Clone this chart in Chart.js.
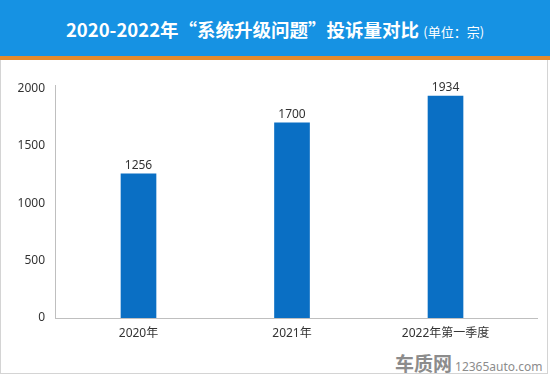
<!DOCTYPE html>
<html>
<head>
<meta charset="utf-8">
<script src="https://cdn.jsdelivr.net/npm/chart.js@4"></script>
<style>
  html, body { margin: 0; padding: 0; width: 550px; height: 376px; overflow: hidden; background: #fff; }
  body { position: relative; font-family: "Noto Sans", "Noto Sans CJK SC", sans-serif; }
  #head { position: absolute; left: 0; top: 0; width: 550px; height: 56px; background: #1692e3; }
  #stripe { position: absolute; left: 0; top: 56px; width: 550px; height: 4px; background: #e48a2c; }
  #title { position: absolute; left: 0; top: 0; width: 550px; height: 58px; line-height: 58px; text-align: center; color: #fff;
    font-family: "Noto Sans CJK SC", sans-serif; font-weight: bold; font-size: 18.5px; white-space: nowrap; }
  #title small { font-size: 13px; font-weight: normal; }
  #panel { position: absolute; left: 0; top: 60px; width: 546px; height: 313px; border: 1px solid #d4d4d4; border-top: none; }
  #logo { position: absolute; left: 395px; top: 349px; color: #8c8c8c; white-space: nowrap; }
  #logo b { font-family: "Noto Sans CJK SC", sans-serif; font-size: 19px; }
  #logo span { font-size: 12px; margin-left: 3px; }
  #wrap { position: absolute; left: 0; top: 0; width: 550px; height: 376px; }
</style>
</head>
<body>
<div id="head"></div>
<div id="stripe"></div>
<div id="title">2020-2022年“系统升级问题”投诉量对比 <small>(单位：宗)</small></div>
<div id="panel"></div>
<div id="logo"><b>车质网</b><span>12365auto.com</span></div>
<div id="wrap"><canvas id="chart" width="550" height="376"></canvas></div>
<script>
const categories = ["2020年", "2021年", "2022年第一季度"];
const complaints = [1256, 1700, 1934];
const yTicks = [0, 500, 1000, 1500, 2000];

const barLabels = {
    id: "barLabels",
    afterDatasetsDraw(chart) {
        const ctx = chart.ctx;
        const meta = chart.getDatasetMeta(0);
        ctx.save();
        ctx.fillStyle = "#333";
        ctx.font = "12px 'Noto Sans', sans-serif";
        ctx.textAlign = "center";
        ctx.textBaseline = "bottom";
        meta.data.forEach((bar, i) => {
            ctx.fillText(String(complaints[i]), bar.x, bar.y - 2);
        });
        ctx.restore();
    },
};

new Chart(document.getElementById("chart").getContext("2d"), {
    type: "bar",
    data: {
        datasets: [{
            data: complaints.map((v, i) => ({ x: i, y: v })),
            backgroundColor: "#0a6fc4",
            barThickness: 35,
        }],
    },
    options: {
        responsive: false,
        animation: false,
        layout: { padding: { top: 85, right: 13, left: 0, bottom: 0 } },
        plugins: { legend: { display: false }, tooltip: { enabled: false } },
        scales: {
            x: {
                type: "linear",
                offset: false,
                min: -0.544,
                max: 2.596,
                afterBuildTicks: scale => { scale.ticks = categories.map((_, i) => ({ value: i })); },
                afterFit: scale => { scale.height = 58; },
                grid: { display: false, drawTicks: false, offset: false },
                border: { display: true, color: "#bfbfbf" },
                ticks: {
                    padding: 8,
                    color: "#333",
                    font: { size: 12, family: "'Noto Sans', 'Noto Sans CJK SC', sans-serif" },
                    callback: v => categories[v],
                },
            },
            y: {
                min: 0,
                max: 2030,
                afterBuildTicks: scale => { scale.ticks = yTicks.map(v => ({ value: v })); },
                afterFit: scale => { scale.width = 55; },
                grid: { display: false, drawTicks: false },
                border: { display: true, color: "#bfbfbf" },
                ticks: {
                    padding: 10,
                    color: "#333",
                    font: { size: 12, family: "'Noto Sans', sans-serif" },
                    callback: v => String(v),
                },
            },
        },
    },
    plugins: [barLabels],
});
</script>
</body>
</html>
